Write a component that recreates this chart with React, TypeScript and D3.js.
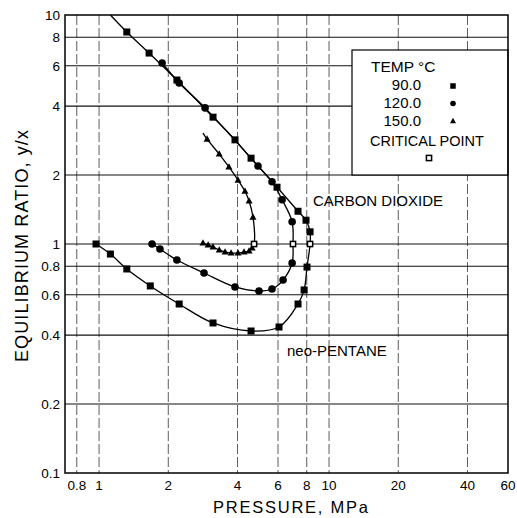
import React from "react";
import * as d3 from "d3";

// ---- Data (pressure MPa, equilibrium ratio y/x) ----
const xTicks = [0.8, 1, 2, 4, 6, 8, 10, 20, 40, 60];
const yTicks = [0.1, 0.2, 0.4, 0.6, 0.8, 1, 2, 4, 6, 8, 10];
const xGrid = [0.8, 1, 2, 4, 6, 8, 10, 20, 40];
const yGrid = [0.2, 0.4, 0.6, 0.8, 1, 2, 4, 6, 8];

// 90 °C
const t90Upper: [number, number][] = [
  [1.32, 8.43], [1.65, 6.82], [2.18, 5.2], [3.13, 3.58], [3.9, 2.85],
  [4.58, 2.37], [5.94, 1.77], [7.33, 1.39], [7.94, 1.27], [8.27, 1.13],
];
const t90Lower: [number, number][] = [
  [8.02, 0.793], [7.79, 0.63], [7.33, 0.547], [6.06, 0.434], [4.58, 0.417],
  [3.13, 0.452], [2.23, 0.547], [1.67, 0.656], [1.32, 0.778], [1.12, 0.904], [0.97, 1.0],
];
const t90CurveStart: [number, number][] = [[1.12, 10]];
const t90Critical: [number, number] = [8.27, 1.0];

// 120 °C
const t120Upper: [number, number][] = [
  [1.88, 6.17], [2.23, 5.05], [2.89, 3.93], [4.91, 2.19], [5.65, 1.87],
  [6.25, 1.56], [6.91, 1.25],
];
const t120Lower: [number, number][] = [
  [6.91, 0.826], [6.31, 0.696], [5.65, 0.636], [4.96, 0.623], [3.9, 0.649],
  [2.86, 0.747], [2.18, 0.851], [1.84, 0.951], [1.7, 1.0],
];
const t120Critical: [number, number] = [6.97, 1.0];

// 150 °C
const t150Upper: [number, number][] = [
  [2.95, 2.87], [3.33, 2.47], [3.67, 2.17], [4.02, 1.9], [4.31, 1.7],
  [4.49, 1.54], [4.67, 1.31],
];
const t150Lower: [number, number][] = [
  [4.63, 0.961], [4.49, 0.932], [4.27, 0.923], [4.02, 0.913], [3.75, 0.913],
  [3.53, 0.923], [3.33, 0.942], [3.13, 0.97], [2.98, 0.99], [2.83, 1.01],
];
const t150CurveStart: [number, number][] = [[2.83, 3.05]];
const t150Critical: [number, number] = [4.72, 1.0];

const legendTemps = ["90.0", "120.0", "150.0"];

const W = 517;
const H = 518;
const FONT = "'Liberation Sans', Arial, Helvetica, sans-serif";

export default function App() {
  const x = d3.scaleLog().domain([0.711, 60]).range([65, 508]);
  const y = d3.scaleLog().domain([0.1, 10]).range([473, 15]);

  const line = d3
    .line<[number, number]>()
    .x((d) => x(d[0]))
    .y((d) => y(d[1]))
    .curve(d3.curveCatmullRom.alpha(0.5));

  const curves = [
    [...t90CurveStart, ...t90Upper, t90Critical, ...t90Lower],
    [...t120Upper, t120Critical, ...t120Lower],
    [...t150CurveStart, ...t150Upper, t150Critical, ...t150Lower],
  ];

  const sq = (cx: number, cy: number, s: number, key: string) => (
    <rect key={key} x={cx - s / 2} y={cy - s / 2} width={s} height={s} fill="#000" />
  );
  const tri = (cx: number, cy: number, s: number, key: string) => {
    const h = s * 0.9;
    return (
      <path
        key={key}
        d={`M${cx},${cy - h * 0.6} L${cx + s / 2},${cy + h * 0.4} L${cx - s / 2},${cy + h * 0.4} Z`}
        fill="#000"
      />
    );
  };
  const crit = (cx: number, cy: number, key: string) => (
    <rect key={key} x={cx - 2.6} y={cy - 2.6} width={5.2} height={5.2} fill="#fff" stroke="#000" strokeWidth={1.5} />
  );

  const legend = { x0: 352, y0: 50, x1: 508, y1: 175 };

  return (
    <svg
      width={W}
      height={H}
      style={{ position: "absolute", left: 0, top: 0, background: "#fff" }}
      fontFamily={FONT}
    >
      <rect x={0} y={0} width={W} height={H} fill="#fff" />
      {/* vertical grid */}
      {xGrid.map((v) => (
        <line
          key={"vx" + v}
          x1={x(v)}
          x2={x(v)}
          y1={15}
          y2={473}
          stroke="#333"
          strokeWidth={0.8}
          strokeDasharray="10,3"
        />
      ))}
      {/* horizontal grid */}
      {yGrid.map((v) => (
        <line key={"hy" + v} x1={65} x2={508} y1={y(v)} y2={y(v)} stroke="#111" strokeWidth={1.1} />
      ))}
      {/* legend box */}
      <rect
        x={legend.x0}
        y={legend.y0}
        width={legend.x1 - legend.x0}
        height={legend.y1 - legend.y0}
        fill="#fff"
        stroke="#000"
        strokeWidth={1.2}
      />
      {/* frame */}
      <rect x={65} y={15} width={443} height={458} fill="none" stroke="#000" strokeWidth={1.5} />

      {/* curves */}
      {curves.map((c, i) => (
        <path key={"c" + i} d={line(c) || ""} fill="none" stroke="#000" strokeWidth={1.3} />
      ))}

      {/* markers */}
      {[...t90Upper, ...t90Lower].map((d, i) => sq(x(d[0]), y(d[1]), 7, "s" + i))}
      {[...t120Upper, ...t120Lower].map((d, i) => (
        <circle key={"o" + i} cx={x(d[0])} cy={y(d[1])} r={3.8} fill="#000" />
      ))}
      {[...t150Upper, ...t150Lower].map((d, i) => tri(x(d[0]), y(d[1]), 7, "t" + i))}
      {[t90Critical, t120Critical, t150Critical].map((d, i) => crit(x(d[0]), y(d[1]), "k" + i))}

      {/* tick labels */}
      {xTicks.map((v) => (
        <text key={"xt" + v} x={x(v)} y={490} fontSize={13.5} textAnchor="middle" fill="#000">
          {String(v)}
        </text>
      ))}
      {yTicks.map((v) => (
        <text key={"yt" + v} x={60} y={y(v) + 5} fontSize={13.5} textAnchor="end" fill="#000">
          {String(v)}
        </text>
      ))}

      {/* axis titles */}
      <text x={290.5} y={513} fontSize={16.5} textAnchor="middle" textLength={155} lengthAdjust="spacing" fill="#000">
        PRESSURE,  MPa
      </text>
      <text
        transform="translate(28,246) rotate(-90)"
        fontSize={18}
        textAnchor="middle"
        textLength={232}
        lengthAdjust="spacing"
        fill="#000"
      >
        EQUILIBRIUM RATIO,  y/x
      </text>

      {/* annotations */}
      <text x={313} y={205.5} fontSize={15} fill="#000">CARBON DIOXIDE</text>
      <text x={287} y={356} fontSize={15} fill="#000">neo-PENTANE</text>

      {/* legend contents */}
      <text x={371} y={71.5} fontSize={15.5} fill="#000">TEMP °C</text>
      {legendTemps.map((t, i) => (
        <text key={"lt" + t} x={421} y={90 + i * 18} fontSize={15} textAnchor="end" fill="#000">
          {t}
        </text>
      ))}
      {sq(453, 86, 5.5, "ls")}
      <circle cx={453} cy={103.5} r={2.8} fill="#000" />
      {tri(453, 121, 6, "lt")}
      <text x={370} y={146} fontSize={14.5} fill="#000">CRITICAL POINT</text>
      {crit(429, 158, "lk")}
    </svg>
  );
}
